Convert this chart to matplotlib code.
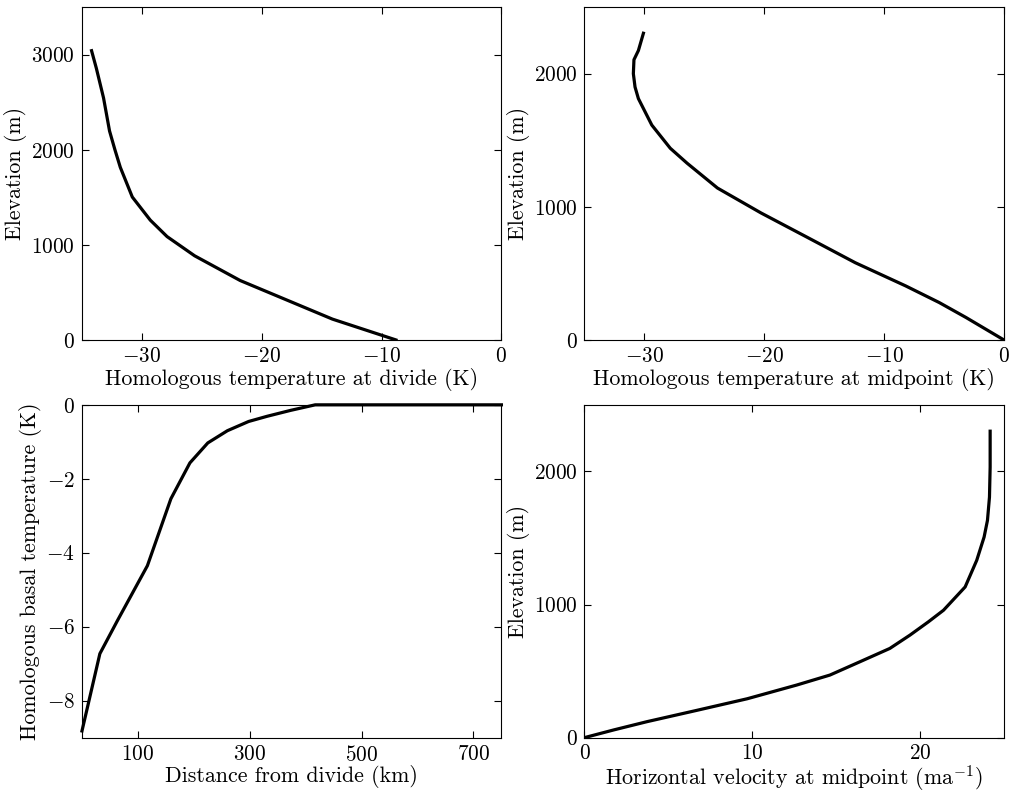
import numpy as np
import matplotlib
matplotlib.use('Agg')
import matplotlib.pyplot as plt

plt.rcParams['font.family'] = 'serif'
plt.rcParams['font.serif'] = ['cmr10']
plt.rcParams['mathtext.fontset'] = 'cm'
plt.rcParams['axes.formatter.use_mathtext'] = True
plt.rcParams['font.size'] = 15.3
plt.rcParams['axes.labelsize'] = 15.8

# ----------DATA----------
# temperature profile at divide
divide_temp = [-34.2, -33.8, -33.2, -32.7, -32.25, -31.8, -30.8, -29.3, -27.9, -25.6, -21.8, -14.1, -8.8]
divide_elev = [3042, 2857, 2545, 2198, 2000, 1815, 1503, 1260, 1087, 885, 625, 219, 0]

# temperature profile at midpoint
mid_temp = [-30.08, -30.5, -30.87, -30.92, -30.78, -30.5, -29.38, -27.84, -26.44, -23.9, -20.27,
            -16.6, -12.4, -8.2, -5.4, -3.17, 0.0]
mid_elev = [2304, 2174, 2105, 2000, 1900, 1813, 1614, 1440, 1328, 1141, 954, 780, 580, 406, 281, 169, 0]

# basal temperature along flowline
dist_km = [0, 32, 63.6, 117, 159, 193, 225, 260, 298, 331, 373, 417, 750]
basal_temp = [-8.82, -6.73, -5.83, -4.35, -2.54, -1.57, -1.03, -0.70, -0.45, -0.31, -0.15, 0.0, 0.0]

# horizontal velocity at midpoint
vel = [0, 1.75, 3.73, 6.7, 9.7, 12.65, 14.63, 16.42, 18.2, 19.4, 20.5, 21.4, 22.69, 23.38, 23.82,
       24.02, 24.14, 24.18, 24.18]
vel_elev = [0, 58, 120, 205, 292, 395, 470, 570, 670, 770, 870, 957, 1132, 1332, 1507, 1632, 1807,
            2032, 2302]

fig, axs = plt.subplots(2, 2, figsize=(10.12, 7.94), dpi=100)
fig.subplots_adjust(left=0.081, right=0.992, bottom=0.071, top=0.991, wspace=0.198, hspace=0.195)

lw = 2.3
ax = axs[0, 0]
ax.plot(divide_temp, divide_elev, color='k', lw=lw)
ax.set(xlim=(-35, 0), ylim=(0, 3500), xticks=[-30, -20, -10, 0], yticks=[0, 1000, 2000, 3000])
ax.set_xlabel('Homologous temperature at divide (K)')
ax.set_ylabel('Elevation (m)')

ax = axs[0, 1]
ax.plot(mid_temp, mid_elev, color='k', lw=lw)
ax.set(xlim=(-35, 0), ylim=(0, 2500), xticks=[-30, -20, -10, 0], yticks=[0, 1000, 2000])
ax.set_xlabel('Homologous temperature at midpoint (K)')
ax.set_ylabel('Elevation (m)')

ax = axs[1, 0]
ax.plot(dist_km, basal_temp, color='k', lw=lw, clip_on=False)
ax.set(xlim=(0, 750), ylim=(-9, 0), xticks=[100, 300, 500, 700], yticks=[0, -2, -4, -6, -8])
ax.set_xlabel('Distance from divide (km)')
ax.set_ylabel('Homologous basal temperature (K)')

ax = axs[1, 1]
ax.plot(vel, vel_elev, color='k', lw=lw)
ax.set(xlim=(0, 25), ylim=(0, 2500), xticks=[0, 10, 20], yticks=[0, 1000, 2000])
ax.set_xlabel(r'Horizontal velocity at midpoint (ma$^{-1}$)')
ax.set_ylabel('Elevation (m)')

for ax in axs.flat:
    ax.tick_params(direction='in', top=True, right=True, length=5, width=0.8, pad=5)
    ax.xaxis.labelpad = 1
    ax.yaxis.labelpad = 3
axs[1, 0].xaxis.labelpad = 0
axs[1, 1].xaxis.labelpad = 0
axs[1, 1].tick_params(axis='x', pad=4)

fig.savefig('out.png', dpi=100)
